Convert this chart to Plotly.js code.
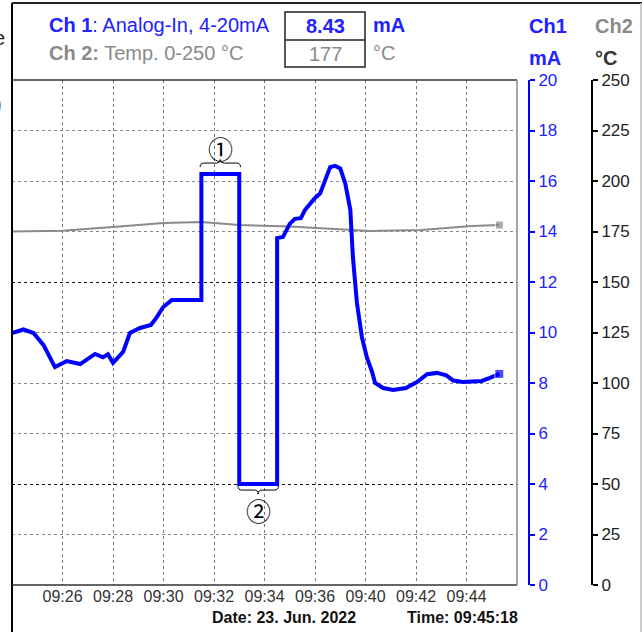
<!DOCTYPE html>
<html>
<head>
<meta charset="utf-8">
<script src="https://cdn.plot.ly/plotly-3.0.1.min.js"></script>
<style>html,body{margin:0;padding:0;background:#fff;}#chart{width:642px;height:632px;}</style>
</head>
<body>
<div id="chart"></div>
<script>
// minutes after 09:24
const ch1Time = [0,0.45,0.85,1.25,1.7,2.17,2.7,3.29,3.6,3.8,4.0,4.4,4.67,5.07,5.5,5.73,5.98,6.33,7.5,7.5,9.0,9.0,10.5,10.5,10.73,11.0,11.2,11.44,11.6,11.8,12.0,12.2,12.4,12.6,12.8,13.0,13.2,13.4,13.5,13.66,13.86,14.06,14.26,14.38,14.7,15.1,15.6,16.04,16.44,16.83,17.2,17.47,17.86,18.6,18.93,19.3];
const ch1mA = [9.98,10.12,9.98,9.5,8.63,8.87,8.75,9.15,9.02,9.14,8.8,9.23,9.98,10.18,10.3,10.6,11.0,11.29,11.29,16.28,16.28,4.0,4.0,13.74,13.78,14.3,14.5,14.53,14.85,15.1,15.33,15.5,16.04,16.55,16.6,16.5,15.9,14.85,13.0,11.17,9.8,8.99,8.44,8.0,7.8,7.72,7.8,8.04,8.35,8.4,8.3,8.1,8.04,8.08,8.2,8.36];
const ch2Time = [0,2,4,6,7.5,9,11,12.2,13.5,14.2,16.2,17.2,18.2,19.3];
const ch2degC = [175,175.4,177.2,179.2,179.7,178.2,177.5,176.7,175.7,175.2,175.7,176.7,177.7,178.2];
const xTickVals = [2,4,6,8,10,12,14,16,18];
const xTickText = ['09:26','09:28','09:30','09:32','09:34','09:36','09:40','09:42','09:44'];
const ch1Ticks = [0,2,4,6,8,10,12,14,16,18,20];
const ch2Ticks = [0,25,50,75,100,125,150,175,200,225,250];
const darkGrid = [4,12];

const BLUE = '#0000ff', TBLUE = '#2222ff', GRAY = '#8a8a8a';
const FONT = 'Liberation Sans, Arial, sans-serif';
const endSize = (arr, s) => arr.map((_, i) => i === arr.length - 1 ? s : 0);

const traces = [
  {x: ch1Time, y: ch1mA, yaxis: 'y', mode: 'lines', opacity: 0, hoverinfo: 'skip'},
  {x: ch2Time, y: ch2degC, yaxis: 'y2', mode: 'lines+markers', line: {color: GRAY, width: 2},
   marker: {symbol: 'square', color: GRAY, size: endSize(ch2Time, 8)}},
  {x: ch1Time, y: ch1mA, yaxis: 'y3', mode: 'lines+markers', line: {color: BLUE, width: 4},
   marker: {symbol: 'square', color: BLUE, size: endSize(ch1Time, 9)}},
  {x: ch1Time, y: ch1mA, yaxis: 'y4', mode: 'lines', opacity: 0, hoverinfo: 'skip'}
];

const W = 630, DOM = 505 / 630;
const px = p => (p - 12) / W;
const py = p => (585 - p) / 505;

function ann(text, x, y, color, size, xanchor) {
  return {text, x, y, xref: 'paper', yref: 'paper', showarrow: false, xanchor: xanchor || 'left', yanchor: 'middle',
          font: {family: FONT, size, color}};
}

const layout = {
  width: 642, height: 632,
  margin: {l: 12, r: 0, t: 80, b: 47},
  paper_bgcolor: '#fff', plot_bgcolor: '#fff',
  showlegend: false,
  font: {family: FONT},
  xaxis: {domain: [0, DOM], range: [0, 20], tickvals: xTickVals, ticktext: xTickText,
          showgrid: true, gridcolor: '#777', griddash: '3px,3px', gridwidth: 1,
          zeroline: false, showline: false, ticks: '', tickfont: {size: 16, color: '#333'}},
  yaxis: {range: [0, 20], tickvals: ch1Ticks, showgrid: true, gridcolor: '#888', griddash: '3px,3px',
          showticklabels: false, zeroline: false, showline: false, ticks: ''},
  yaxis2: {overlaying: 'y', anchor: 'free', position: px(592), side: 'right', range: [0, 250], tickvals: ch2Ticks,
           showline: true, linecolor: '#000', linewidth: 2, ticks: 'outside', ticklen: 5, tickwidth: 2, tickcolor: '#000',
           tickfont: {size: 17, color: '#222'}, showgrid: false, zeroline: false},
  yaxis3: {overlaying: 'y', anchor: 'free', position: px(529), side: 'right', range: [0, 20], tickvals: ch1Ticks,
           showline: true, linecolor: BLUE, linewidth: 2, ticks: 'outside', ticklen: 5, tickwidth: 2, tickcolor: BLUE,
           tickfont: {size: 17, color: TBLUE}, showgrid: false, zeroline: false},
  yaxis4: {overlaying: 'y', range: [0, 20], tickvals: darkGrid, showgrid: true, gridcolor: '#111', griddash: '3px,3px',
           showticklabels: false, zeroline: false, showline: false, ticks: ''},
  shapes: [
    {type: 'line', xref: 'paper', yref: 'paper', x0: 0, x1: 0, y0: py(632), y1: py(3), line: {color: '#000', width: 2}},
    {type: 'line', xref: 'paper', yref: 'paper', x0: 0, x1: px(642), y0: py(3), y1: py(3), line: {color: '#222', width: 2}},
    {type: 'line', xref: 'paper', yref: 'paper', x0: 0, x1: DOM, y0: 1, y1: 1, line: {color: '#333', width: 1.5}},
    {type: 'line', xref: 'paper', yref: 'paper', x0: 0, x1: DOM, y0: 0, y1: 0, line: {color: '#333', width: 1.5}},
    {type: 'line', xref: 'paper', yref: 'paper', x0: DOM, x1: DOM, y0: 0, y1: 1, line: {color: '#888', width: 1.5}},
    {type: 'line', xref: 'paper', yref: 'paper', x0: px(641), x1: px(641), y0: py(632), y1: py(3), line: {color: '#bbb', width: 1.5}},
    {type: 'rect', xref: 'paper', yref: 'paper', x0: px(285), x1: px(365), y0: py(67), y1: py(12), line: {color: '#222', width: 1.5}},
    {type: 'line', xref: 'paper', yref: 'paper', x0: px(285), x1: px(365), y0: py(40), y1: py(40), line: {color: '#222', width: 1.5}},
    {type: 'path', xref: 'x', yref: 'y', line: {color: '#000', width: 1},
     path: 'M 7.45,16.55 Q 7.45,16.71 7.6,16.71 L 8.1,16.71 Q 8.25,16.71 8.25,16.85 Q 8.25,16.71 8.4,16.71 L 8.9,16.71 Q 9.05,16.71 9.05,16.55'},
    {type: 'path', xref: 'x', yref: 'y', line: {color: '#000', width: 1},
     path: 'M 8.95,3.92 Q 8.95,3.76 9.1,3.76 L 9.6,3.76 Q 9.75,3.76 9.75,3.6 Q 9.75,3.76 9.9,3.76 L 10.4,3.76 Q 10.55,3.76 10.55,3.92'}
  ],
  annotations: [
    ann('<b>Ch 1</b>: Analog-In, 4-20mA', px(47), py(25), TBLUE, 20),
    ann('<b>Ch 2:</b> Temp. 0-250 °C', px(47), py(53), GRAY, 20),
    ann('<b>8.43</b>', px(325), py(26), TBLUE, 20, 'center'),
    ann('177', px(325), py(54), GRAY, 20, 'center'),
    ann('<b>mA</b>', px(371), py(25), TBLUE, 20),
    ann('°C', px(371), py(53), GRAY, 20),
    ann('<b>Ch1</b>', px(527), py(26), TBLUE, 20),
    ann('<b>Ch2</b>', px(593), py(26), GRAY, 20),
    ann('<b>mA</b>', px(527), py(58), TBLUE, 20),
    ann('<b>°C</b>', px(593), py(58), '#333', 20),
    ann('<b>Date: 23. Jun. 2022</b>', px(284), py(617), '#111', 16, 'center'),
    ann('<b>Time: 09:45:18</b>', px(462), py(617), '#111', 16, 'center'),
    ann('e', px(7), py(38), '#222', 20, 'right'),
    ann(')', px(4), py(104), '#222', 20, 'right'),
    {text: '①', x: 8.25, y: 17.3, xref: 'x', yref: 'y', showarrow: false, xanchor: 'center', yanchor: 'middle',
     font: {family: 'Noto Sans CJK JP', size: 25, color: '#000'}},
    {text: '②', x: 9.75, y: 2.97, xref: 'x', yref: 'y', showarrow: false, xanchor: 'center', yanchor: 'middle',
     font: {family: 'Noto Sans CJK JP', size: 25, color: '#000'}}
  ]
};

Plotly.newPlot('chart', traces, layout, {staticPlot: true, displayModeBar: false});
</script>
</body>
</html>
